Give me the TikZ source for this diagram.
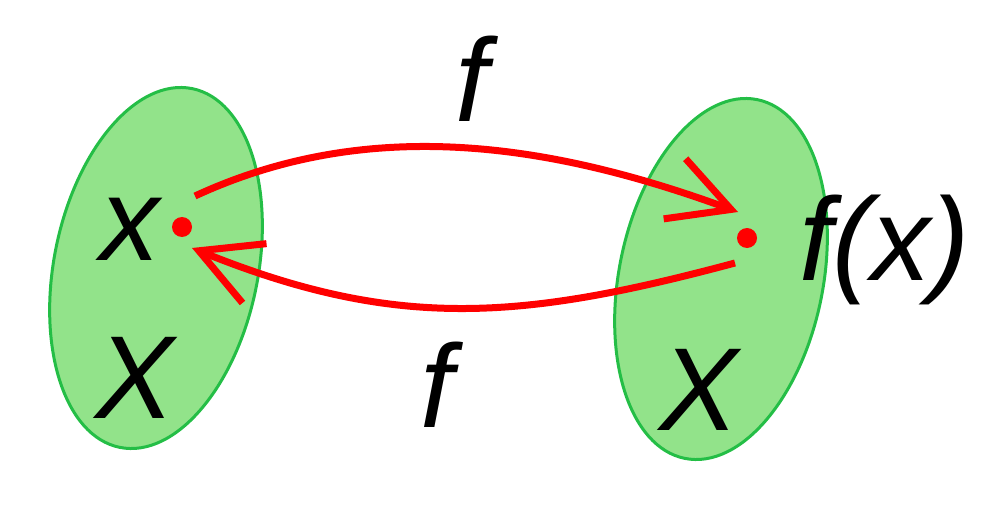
\documentclass[tikz,border=0pt]{standalone}
\usepackage{fontspec}
\setmainfont{Liberation Sans}
\usetikzlibrary{shapes.geometric,arrows.meta}
\definecolor{setfill}{RGB}{146,227,138}
\definecolor{setdraw}{RGB}{36,190,70}
\begin{document}
\begin{tikzpicture}[x=1pt, y=1pt,
			set/.style = {draw=setdraw, line width=3pt, fill=setfill, ellipse, minimum width=204pt, minimum height=366pt, inner sep=0pt},
			dot/.style = {circle, fill=red, inner sep=0pt, minimum width=20pt},
			letter/.style = {inner sep=0pt, anchor=base, font=\fontsize{118}{118}\selectfont\itshape},
			map/.style = {draw=red, line width=7pt, -{Straight Barb[length=60pt, width=64pt]}}]
			
			\useasboundingbox (0,0) rectangle (1008,512);
			
			\node[set, rotate=-11.4] (1) at (156,244) {};
			\node[set, rotate=-11.4] (2) at (721,233) {};
			
			\node[dot] (3) at (182,285) {};
			\node[dot] (4) at (747,274) {};
			
			\coordinate (a) at (195,316);
			\coordinate (b) at (738,300);
			\coordinate (c) at (735,249);
			\coordinate (d) at (192,264);
			
			\draw[map] (a) .. controls (372,398) and (555,367) .. (b);
			\draw[map] (c) .. controls (522,192) and (397,181) .. (d);
			
			\node[letter] (x) at (130,252) {x};
			\node[letter] (X1) at (135,94) {X};
			\node[letter] (X2) at (699,82) {X};
			\node[letter] (fx) at (885,232) {f(x)};
			\node[letter] (f1) at (472,390) {f};
			\node[letter] (f2) at (437,85) {f};
		\end{tikzpicture}
\end{document}
